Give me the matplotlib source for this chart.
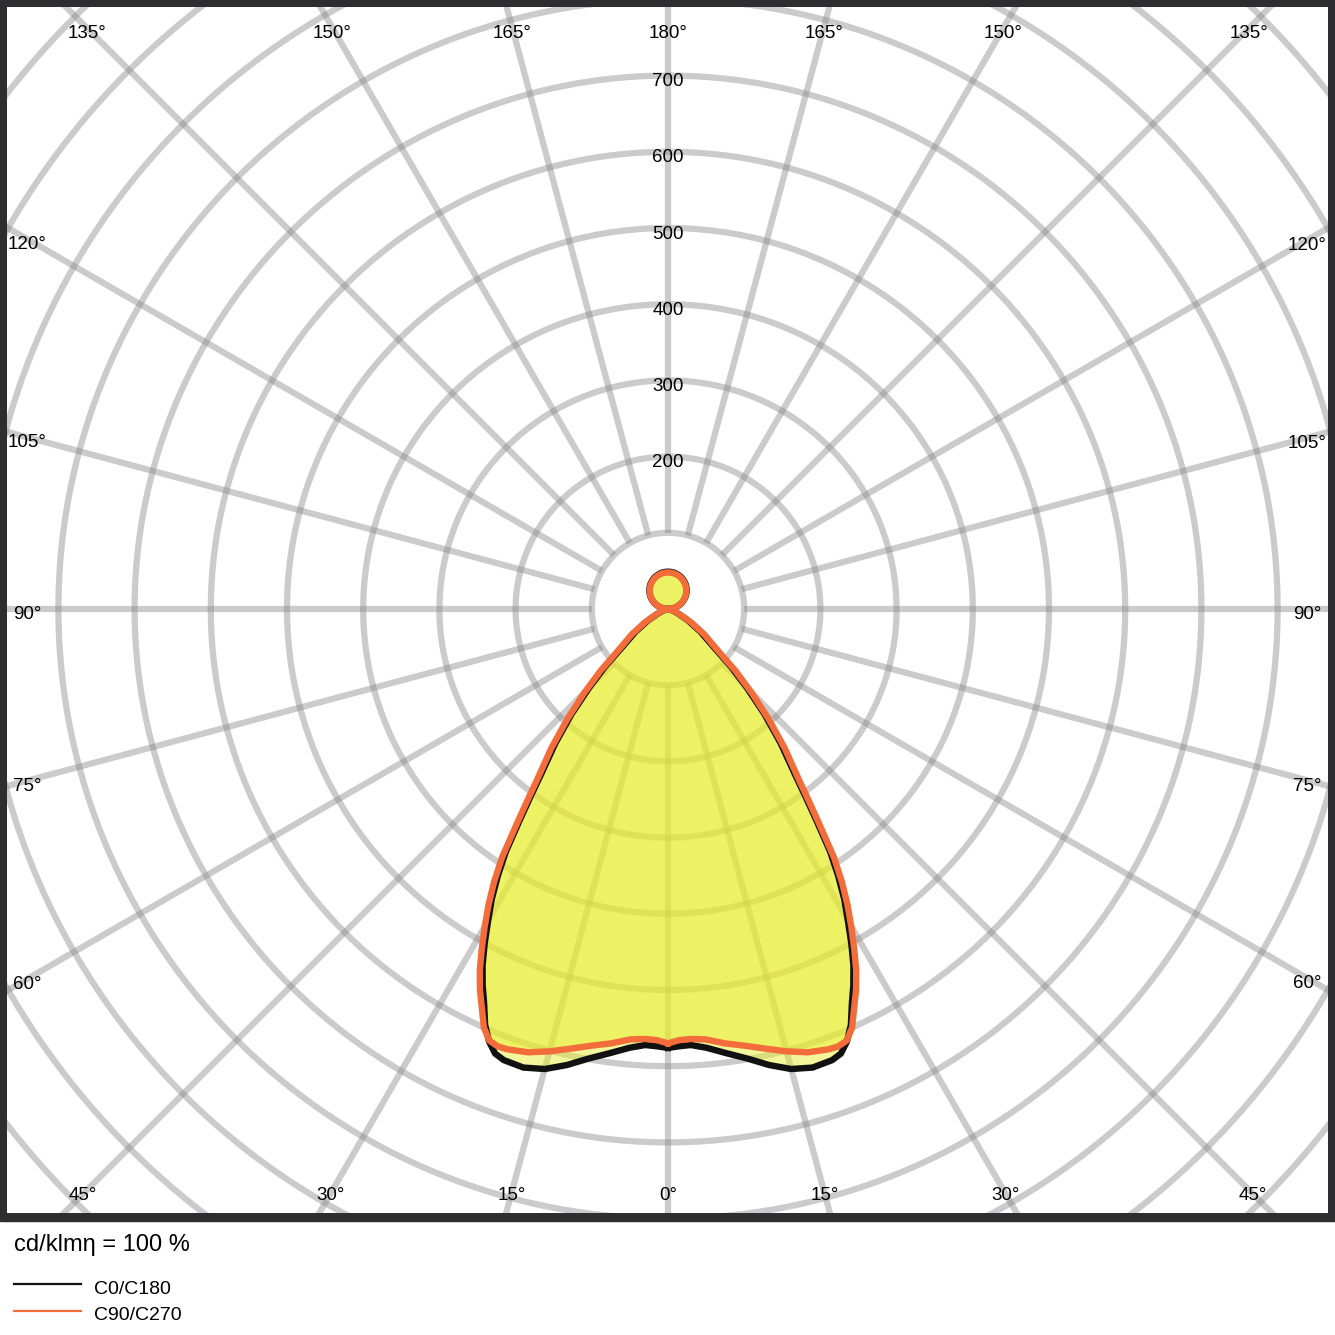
import numpy as np
import matplotlib.pyplot as plt
from matplotlib.patches import Rectangle
from matplotlib.lines import Line2D

plt.rcParams['font.family'] = ['Liberation Sans', 'DejaVu Sans']

# Luminous intensity (cd/klm) vs gamma angle (deg, 0 = straight down)
gamma = [0, 1.5, 3, 5, 7.5, 10, 12.5, 15, 17.5, 20, 21.25, 22.5, 23.75,
         25, 26.25, 27.5, 28.75, 30, 31.25, 32.5, 33.75, 35, 36.25, 37.5,
         40, 42.5, 45, 47.5, 50, 55, 60, 65, 70, 75, 80, 85, 90,
         95, 100, 105, 110, 115, 120, 125, 130, 135, 140, 145,
         150, 155, 160, 165, 170, 175, 180]

c0_c180 = [576, 574, 573, 578, 588, 599, 613, 625, 631, 630, 626, 614, 596,
           571, 550, 527, 500, 472, 446, 416, 383, 341, 305, 274,
           230, 188, 147, 112, 80, 52, 31, 16, 8, 4, 2, 1, 0,
           4.3, 8.5, 12.7, 16.8, 20.7, 24.5, 28.1, 31.5, 34.6, 37.5, 40.1,
           42.4, 44.4, 46.0, 47.3, 48.3, 48.8, 49.0]

c90_c270 = [570, 566, 565, 567, 575, 582, 591, 601, 610, 615, 616, 613, 600,
            578, 558, 535, 508, 481, 454, 425, 392, 349, 313, 282,
            238, 195, 155, 120, 87, 58, 35, 18, 9, 4, 2, 1, 0,
            4.2, 8.3, 12.4, 16.4, 20.3, 24.0, 27.5, 30.9, 33.9, 36.8, 39.3,
            41.6, 43.5, 45.1, 46.4, 47.3, 47.8, 48.0]

ring_values = [100, 200, 300, 400, 500, 600, 700, 800, 900, 1000, 1100, 1200]
ring_labels = [200, 300, 400, 500, 600, 700]
spoke_angles = list(range(0, 181, 15))

series_names = ['C0/C180', 'C90/C270']
series_colors = ['#111111', '#f36d3b']
fill_color = '#e7ed28'
grid_color = '#8c8c8c'
frame_color = '#2e2e30'

# layout (pixels in the 1335 x 1335 output)
W = H = 1335
S = 0.762                 # pixels per cd
CX, CY = 668, 609         # pole position
AX_L, AX_R, AX_T, AX_B = 7, 1328, 7, 1213


def curve_xy(vals):
    g = np.radians(gamma)
    v = np.asarray(vals, dtype=float)
    # right half (C0 / C90) then left half (C180 / C270)
    xr, yr = v * np.sin(g), -v * np.cos(g)
    xl, yl = -v[::-1] * np.sin(g[::-1]), -v[::-1] * np.cos(g[::-1])
    return np.concatenate([xr, xl]), np.concatenate([yr, yl])


fig = plt.figure(figsize=(W / 100, H / 100), dpi=100)
fig.patches.append(Rectangle((0, 1 - 1221 / H), 1, 1221 / H,
                             transform=fig.transFigure,
                             color=frame_color, zorder=-5))

ax = fig.add_axes([AX_L / W, 1 - AX_B / H, (AX_R - AX_L) / W,
                   (AX_B - AX_T) / H])
ax.set_zorder(1)
ax.set_facecolor('white')
ax.set_xlim((AX_L - CX) / S, (AX_R - CX) / S)
ax.set_ylim(-(AX_B - CY) / S, (CY - AX_T) / S)
ax.set_xticks([])
ax.set_yticks([])
for sp in ax.spines.values():
    sp.set_visible(False)

# grid
t = np.linspace(0, 2 * np.pi, 721)
for r in ring_values:
    ax.plot(r * np.cos(t), r * np.sin(t), color=grid_color, alpha=0.45,
            lw=4.5, solid_capstyle='butt', zorder=1)
for a in spoke_angles:
    ar = np.radians(a)
    for side in ([1] if a in (0, 180) else [1, -1]):
        dx, dy = side * np.sin(ar), -np.cos(ar)
        ax.plot([100 * dx, 2500 * dx], [100 * dy, 2500 * dy],
                color=grid_color, alpha=0.45, lw=4.5,
                solid_capstyle='butt', zorder=1)

# curves
for vals in (c0_c180, c90_c270):
    x, y = curve_xy(vals)
    ax.fill(x, y, color=fill_color, alpha=0.47, lw=0, zorder=2)
for vals, col in zip((c0_c180, c90_c270), series_colors):
    x, y = curve_xy(vals)
    ax.plot(x, y, color=col, lw=4.6, solid_joinstyle='round', zorder=3)

# ring labels
for r in ring_labels:
    ax.text(0, r - 5.5, str(r), ha='center', va='center_baseline',
            fontsize=13.5, color='black', zorder=5)

# angle labels along the frame
box_l, box_r, box_t, box_b = 27, 1307.5, 28, 1193.7
for a in spoke_angles:
    ar = np.radians(a)
    for side in ([1] if a in (0, 180) else [1, -1]):
        ux, uy = side * np.sin(ar), np.cos(ar)   # pixel direction, y down
        tx = np.inf if abs(ux) < 1e-9 else ((box_r - CX) / ux if ux > 0
                                             else (box_l - CX) / ux)
        ty = np.inf if abs(uy) < 1e-9 else ((box_b - CY) / uy if uy > 0
                                             else (box_t - CY) / uy)
        tt = min(tx, ty)
        px, py = CX + tt * ux, CY + tt * uy
        if tx < ty:
            py += 3.7
        elif uy < 0:
            py = 31.7
        ax.text((px - CX) / S, (CY - py) / S, f'{a}°', ha='center',
                va='center_baseline', fontsize=13.5, color='black', zorder=5)

# footer
fig.text(14 / W, 1 - 1242 / H, 'cd/klmη = 100 %', fontsize=17,
         va='center_baseline', ha='left')
for i, (name, col) in enumerate(zip(series_names, series_colors)):
    ly = 1283.5 + 27 * i
    fig.add_artist(Line2D([14 / W, 81 / W], [1 - ly / H, 1 - ly / H],
                          color=col, lw=1.6, transform=fig.transFigure))
    fig.text(94 / W, 1 - (ly + 3.5) / H, name, fontsize=14,
             va='center_baseline', ha='left')

fig.savefig('out.png', dpi=100, facecolor='white')
